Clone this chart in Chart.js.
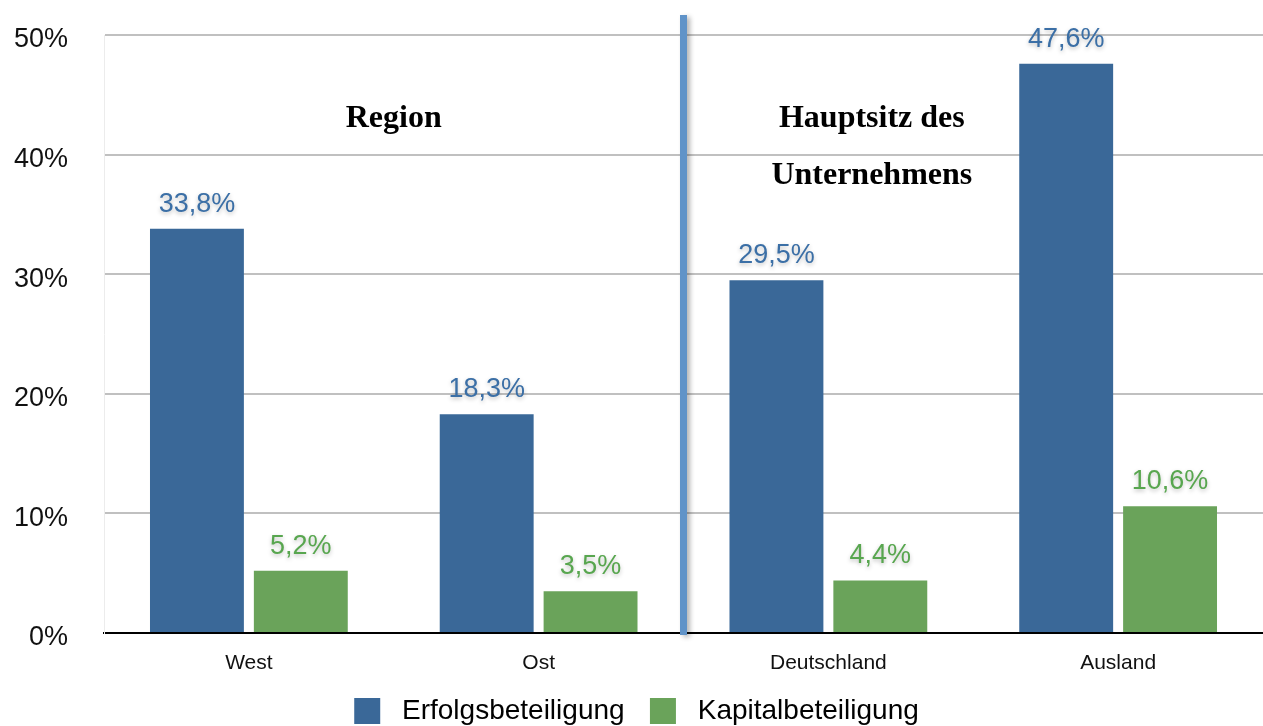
<!DOCTYPE html>
<html>
<head>
<meta charset="utf-8">
<script src="https://cdn.jsdelivr.net/npm/chart.js@4/dist/chart.umd.min.js"></script>
<style>
  html, body { margin: 0; padding: 0; background: #fff; }
  #wrap { width: 1263px; height: 726px; }
</style>
</head>
<body>
<div id="wrap"><canvas id="chart" width="1263" height="726"></canvas></div>
<script>
// Werte
const categories = ['West', 'Ost', 'Deutschland', 'Ausland'];
const erfolgsbeteiligung = [33.8, 18.3, 29.5, 47.6];
const kapitalbeteiligung = [5.2, 3.5, 4.4, 10.6];
const seriesNames = ['Erfolgsbeteiligung', 'Kapitalbeteiligung'];
const yTicks = [0, 10, 20, 30, 40, 50];

const BLUE = '#3a6898';
const GREEN = '#6aa35a';
const BLUE_TEXT = '#3b6fa6';
const GREEN_TEXT = '#58a64f';
const SANS = '"Liberation Sans", Arial, sans-serif';
const SERIF = '"Liberation Serif", "Times New Roman", serif';

const fmt = v => v.toFixed(1).replace('.', ',') + '%';

// Beschriftungen über den Balken, mit weichem Schatten
const valueLabels = {
    id: 'valueLabels',
    afterDatasetsDraw(chart) {
        const ctx = chart.ctx;
        ctx.save();
        ctx.font = '27px ' + SANS;
        ctx.textAlign = 'center';
        ctx.textBaseline = 'alphabetic';
        ctx.shadowColor = 'rgba(0,0,0,0.25)';
        ctx.shadowBlur = 4;
        ctx.shadowOffsetY = 2;
        chart.data.datasets.forEach((ds, i) => {
            const meta = chart.getDatasetMeta(i);
            ctx.fillStyle = i === 0 ? BLUE_TEXT : GREEN_TEXT;
            meta.data.forEach((bar, j) => {
                ctx.fillText(fmt(ds.data[j]), bar.x, bar.y - 17);
            });
        });
        ctx.restore();
    }
};

// Trennlinie und Gruppentitel
const groups = {
    id: 'groups',
    afterDatasetsDraw(chart) {
        const ctx = chart.ctx;
        const x = chart.scales.x;
        const y = chart.scales.y;
        const area = chart.chartArea;
        ctx.save();
        ctx.shadowColor = 'rgba(0,0,0,0.3)';
        ctx.shadowBlur = 5;
        ctx.shadowOffsetX = 3;
        ctx.shadowOffsetY = 2;
        ctx.strokeStyle = '#6093c8';
        ctx.lineWidth = 7;
        const sx = x.getPixelForValue(1.5);
        ctx.beginPath();
        ctx.moveTo(sx, area.top - 20);
        ctx.lineTo(sx, area.bottom + 2);
        ctx.stroke();
        ctx.restore();

        ctx.save();
        ctx.font = 'bold 32px ' + SERIF;
        ctx.fillStyle = '#000';
        ctx.textAlign = 'center';
        ctx.textBaseline = 'middle';
        ctx.fillText('Region', x.getPixelForValue(0.5), y.getPixelForValue(43));
        ctx.fillText('Hauptsitz des', x.getPixelForValue(2.15), y.getPixelForValue(43));
        ctx.fillText('Unternehmens', x.getPixelForValue(2.15), y.getPixelForValue(38.2));
        ctx.restore();
    }
};

new Chart(document.getElementById('chart'), {
    type: 'bar',
    data: {
        labels: categories,
        datasets: [
            { label: seriesNames[0], data: erfolgsbeteiligung, backgroundColor: BLUE },
            { label: seriesNames[1], data: kapitalbeteiligung, backgroundColor: GREEN }
        ]
    },
    options: {
        responsive: false,
        animation: false,
        layout: { padding: { top: 35, left: 10, right: 0, bottom: -9 } },
        datasets: {
            bar: { categoryPercentage: 0.717, barPercentage: 0.904 }
        },
        scales: {
            x: {
                grid: { display: false },
                border: { color: '#000', width: 2 },
                ticks: { color: '#111', font: { family: SANS, size: 21 }, padding: 10 },
                afterFit(scale) { scale.height = 62; }
            },
            y: {
                min: 0,
                max: 50,
                afterBuildTicks(scale) {
                    scale.ticks = yTicks.map(v => ({ value: v }));
                },
                afterFit(scale) {
                    scale.width = 94;
                    scale.paddingTop = 16;
                    scale.paddingBottom = 0;
                },
                grid: { color: '#c0c0c0', lineWidth: 2, drawTicks: false },
                border: { color: '#ececec', width: 1 },
                ticks: {
                    color: '#111',
                    font: { family: SANS, size: 27 },
                    padding: 36,
                    labelOffset: 5,
                    callback: v => v + '%'
                }
            }
        },
        plugins: {
            legend: {
                position: 'bottom',
                labels: {
                    color: '#111',
                    font: { family: SANS, size: 28 },
                    boxWidth: 26,
                    boxHeight: 26,
                    padding: 2,
                    // Leerzeichen geben den Abstand Kästchen-Text und zwischen den Einträgen
                    generateLabels(chart) {
                        return chart.data.datasets.map((ds, i) => ({
                            text: ' ' + ds.label + (i === 0 ? '   ' : ''),
                            fillStyle: ds.backgroundColor,
                            strokeStyle: ds.backgroundColor,
                            lineWidth: 0,
                            datasetIndex: i,
                            hidden: false
                        }));
                    }
                }
            },
            tooltip: { enabled: false }
        }
    },
    plugins: [valueLabels, groups]
});
</script>
</body>
</html>
